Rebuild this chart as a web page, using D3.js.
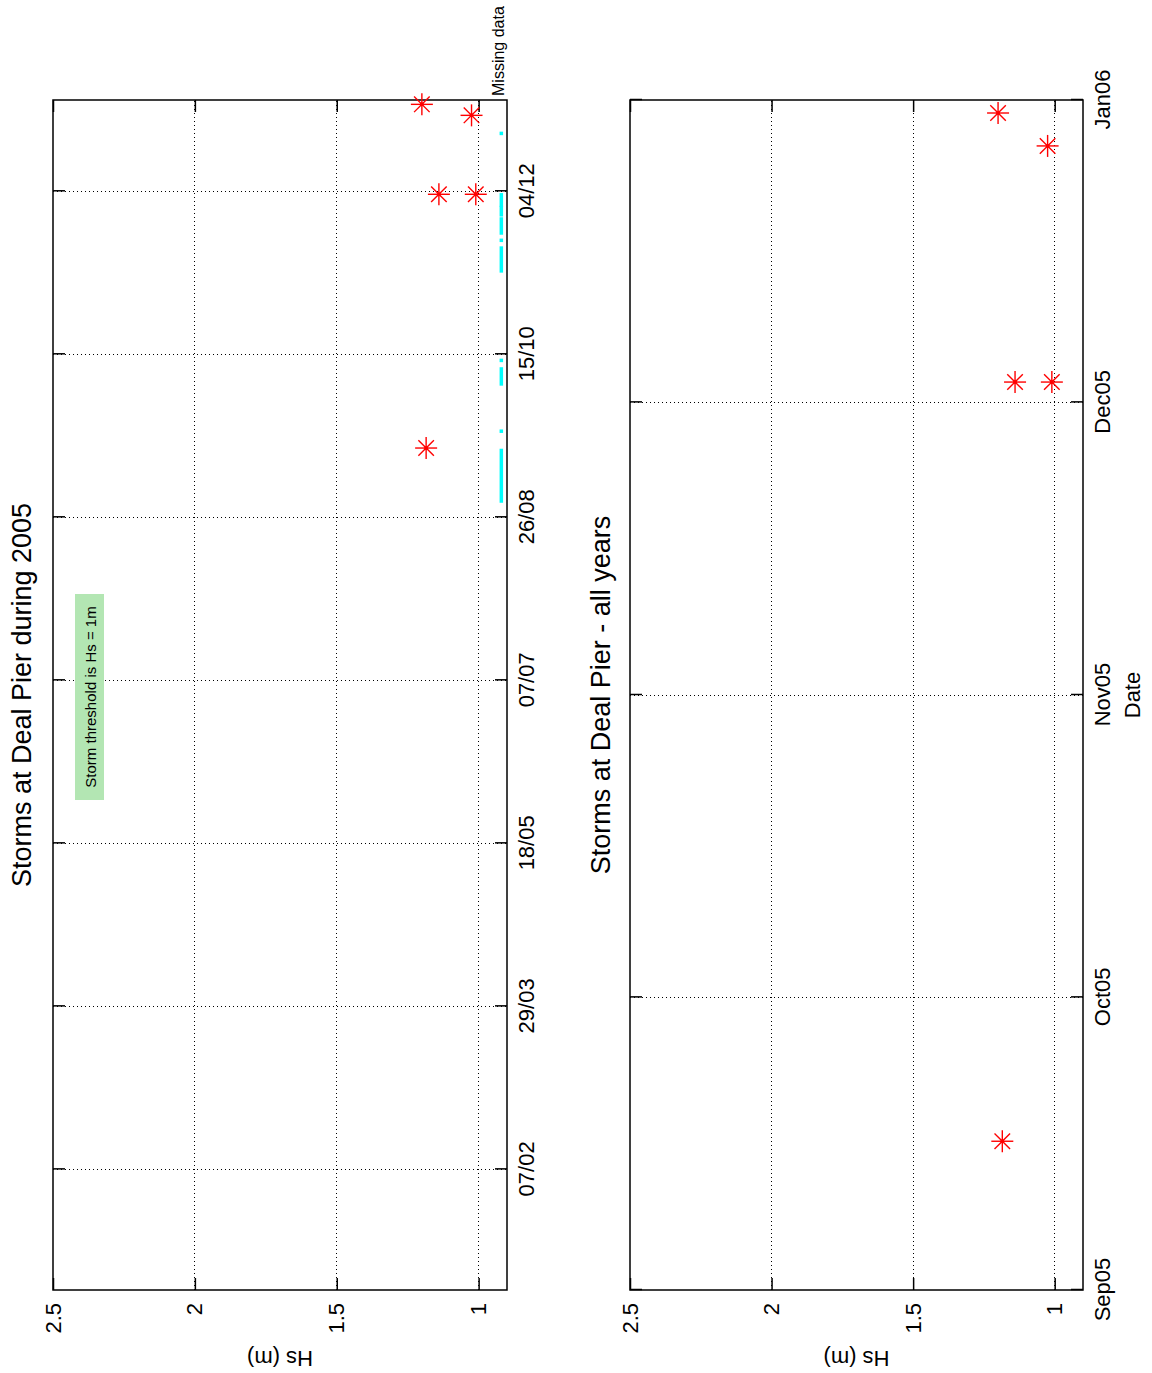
<!DOCTYPE html>
<html lang="en">
  <head>
    <meta charset="UTF-8" />
    <title>Storms at Deal Pier</title>
    <script src="https://d3js.org/d3.v7.min.js"></script>
    <style>
      body {
        margin: 0;
        background: #fff;
      }
      svg text {
        font-family: "Liberation Sans", Arial, sans-serif;
        fill: #000;
      }
    </style>
  </head>
  <body>
    <svg id="chart"></svg>
    <script>
      // page is the MATLAB figure turned a quarter turn anticlockwise
      const PAGE_W = 1152;
      const PAGE_H = 1373;

      // storm events (Hs above 1 m)
      const stormDates = [
        "2005-09-16T06:00",
        "2005-12-03T02:00",
        "2005-12-03T02:00",
        "2005-12-27T07:00",
        "2005-12-30T16:00",
      ];
      const stormHs = [1.185, 1.14, 1.01, 1.025, 1.2];

      // gaps in the record, drawn along the bottom of the 2005 panel
      const missStart = [
        "2005-08-31T00:00",
        "2005-09-21T10:00",
        "2005-10-05T22:00",
        "2005-10-13T03:00",
        "2005-11-09T14:00",
        "2005-11-18T23:00",
        "2005-11-21T05:00",
        "2005-11-26T19:00",
        "2005-11-29T19:00",
        "2005-12-21T18:00",
      ];
      const missEnd = [
        "2005-09-15T12:00",
        "2005-09-21T10:00",
        "2005-10-10T12:00",
        "2005-10-13T03:00",
        "2005-11-16T14:00",
        "2005-11-18T23:00",
        "2005-11-25T12:00",
        "2005-11-29T00:00",
        "2005-12-02T22:00",
        "2005-12-21T18:00",
      ];
      const missHs = 0.92;

      const hsTicks = [1, 1.5, 2, 2.5];
      const yearTicks = [
        "2005-02-07",
        "2005-03-29",
        "2005-05-18",
        "2005-07-07",
        "2005-08-26",
        "2005-10-15",
        "2005-12-04",
      ];
      const allTicks = [
        "2005-09-01",
        "2005-10-01",
        "2005-11-01",
        "2005-12-01",
        "2006-01-01",
      ];

      const toDate = (s) => new Date(s + (s.length > 10 ? ":00Z" : "T00:00:00Z"));

      const svg = d3
        .select("#chart")
        .attr("width", PAGE_W)
        .attr("height", PAGE_H);

      svg.append("rect").attr("width", PAGE_W).attr("height", PAGE_H).attr("fill", "#fff");

      // everything below is drawn in the landscape frame (1373 x 1152)
      const fig = svg
        .append("g")
        .attr("transform", `translate(0,${PAGE_H}) rotate(-90)`);

      const X0 = 83;
      const X1 = 1273;
      const TICK = 12;

      function drawPanel(opt) {
        const x = d3
          .scaleUtc()
          .domain([toDate(opt.start), toDate(opt.end)])
          .range([X0, X1]);
        const y = d3.scaleLinear().domain([0.9, 2.5]).range([opt.bottom, opt.top]);
        const xt = opt.ticks.map(toDate);
        const g = fig.append("g");

        // grid
        const inside = (v, s) => {
          const p = s(v);
          const r = s.range();
          return p > Math.min(...r) + 1 && p < Math.max(...r) - 1;
        };
        const grid = g
          .append("g")
          .attr("stroke", "#000")
          .attr("stroke-width", 1)
          .attr("stroke-dasharray", "1,3")
          .attr("shape-rendering", "crispEdges");
        grid
          .selectAll(".gx")
          .data(xt.filter((d) => inside(d, x)))
          .join("line")
          .attr("x1", (d) => x(d))
          .attr("x2", (d) => x(d))
          .attr("y1", opt.top)
          .attr("y2", opt.bottom);
        grid
          .selectAll(".gy")
          .data(hsTicks.filter((d) => inside(d, y)))
          .join("line")
          .attr("x1", X0)
          .attr("x2", X1)
          .attr("y1", (d) => y(d))
          .attr("y2", (d) => y(d));

        // axes, ticks pointing inward on all four sides
        const bottom = g
          .append("g")
          .attr("transform", `translate(0,${opt.bottom})`)
          .call(
            d3
              .axisBottom(x)
              .tickValues(xt)
              .tickFormat(d3.utcFormat(opt.fmt))
              .tickSize(-TICK)
              .tickPadding(11)
          );
        const left = g
          .append("g")
          .attr("transform", `translate(${X0},0)`)
          .call(d3.axisLeft(y).tickValues(hsTicks).tickFormat(d3.format("")).tickSize(-TICK).tickPadding(13));
        const top = g
          .append("g")
          .attr("transform", `translate(0,${opt.top})`)
          .call(d3.axisTop(x).tickValues(xt).tickFormat("").tickSize(-TICK));
        const right = g
          .append("g")
          .attr("transform", `translate(${X1},0)`)
          .call(d3.axisRight(y).tickValues(hsTicks).tickFormat("").tickSize(-TICK));

        [bottom, left, top, right].forEach((a) => {
          a.select(".domain").remove();
          a.selectAll("line").attr("stroke", "#000").attr("stroke-width", 1.5);
          a.selectAll("text").attr("font-size", 22).attr("fill", "#000");
        });

        g.append("rect")
          .attr("x", X0)
          .attr("y", opt.top)
          .attr("width", X1 - X0)
          .attr("height", opt.bottom - opt.top)
          .attr("fill", "none")
          .attr("stroke", "#000")
          .attr("stroke-width", 1.5);

        // missing data
        if (opt.missing) {
          g.append("g")
            .selectAll("rect")
            .data(missStart.map((s, i) => [toDate(s), toDate(missEnd[i])]))
            .join("rect")
            .attr("x", (d) => x(d[0]) - 1.75)
            .attr("width", (d) => x(d[1]) - x(d[0]) + 3.5)
            .attr("y", y(missHs) - 1.75)
            .attr("height", 3.5)
            .attr("fill", "#00ffff");
        }

        // storms
        const stars = g
          .append("g")
          .selectAll("g")
          .data(stormDates.map((s, i) => ({ date: toDate(s), hs: stormHs[i] })))
          .join("g")
          .attr("transform", (d) => `translate(${x(d.date)},${y(d.hs)})`)
          .attr("stroke", "#ff0000")
          .attr("stroke-width", 1.4);
        [0, 45, 90, 135].forEach((a) => {
          const r = 11;
          const dx = r * Math.cos((a * Math.PI) / 180);
          const dy = r * Math.sin((a * Math.PI) / 180);
          stars
            .append("line")
            .attr("x1", -dx)
            .attr("y1", -dy)
            .attr("x2", dx)
            .attr("y2", dy);
        });
        stars.append("circle").attr("r", 2).attr("fill", "#ff0000").attr("stroke", "none");

        // labels
        g.append("text")
          .attr("x", (X0 + X1) / 2)
          .attr("y", opt.titleY)
          .attr("text-anchor", "middle")
          .attr("font-size", 27)
          .text(opt.title);

        g.append("text")
          .attr("transform", `translate(22,${(opt.top + opt.bottom) / 2}) rotate(-90)`)
          .attr("text-anchor", "middle")
          .attr("font-size", 22)
          .text("Hs (m)");

        if (opt.xlabel) {
          g.append("text")
            .attr("x", (X0 + X1) / 2)
            .attr("y", opt.bottom + 57)
            .attr("text-anchor", "middle")
            .attr("font-size", 22)
            .text(opt.xlabel);
        }

        return { x, y, g };
      }

      const p1 = drawPanel({
        top: 53,
        bottom: 507,
        start: "2005-01-01",
        end: "2006-01-01",
        ticks: yearTicks,
        fmt: "%d/%m",
        title: "Storms at Deal Pier during 2005",
        titleY: 31,
        missing: true,
      });

      drawPanel({
        top: 630,
        bottom: 1083,
        start: "2005-09-01",
        end: "2006-01-01",
        ticks: allTicks,
        fmt: "%b%y",
        title: "Storms at Deal Pier - all years",
        titleY: 610,
        xlabel: "Date",
      });

      // notes on the 2005 panel
      p1.g
        .append("text")
        .attr("x", X1 + 4)
        .attr("y", 504)
        .attr("font-size", 16)
        .text("Missing data");

      const note = p1.g.append("g");
      note
        .append("rect")
        .attr("x", 573)
        .attr("y", 75)
        .attr("width", 206)
        .attr("height", 29)
        .attr("fill", "#b3e6b3");
      note
        .append("text")
        .attr("x", 676)
        .attr("y", 96)
        .attr("text-anchor", "middle")
        .attr("font-size", 15)
        .text("Storm threshold is Hs = 1m");
    </script>
  </body>
</html>
